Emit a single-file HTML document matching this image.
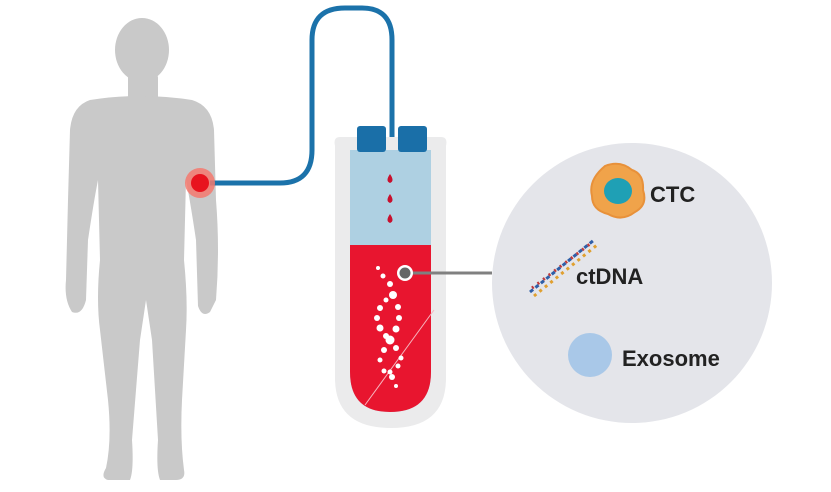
<!DOCTYPE html>
<html><head><style>body{margin:0;background:#fff}svg{display:block}</style></head><body>
<svg width="831" height="492" viewBox="0 0 831 492" xmlns="http://www.w3.org/2000/svg">
<rect width="831" height="492" fill="#fff"/>
<g fill="#c9c9c9">
<ellipse cx="142" cy="50" rx="27" ry="32"/>
<rect x="128" y="72" width="30" height="32" rx="6"/>
<path d="M90 100 Q140 92 192 100 Q212 106 214 130 L216 200 Q220 250 216 300 L210 312 Q202 318 198 306 L196 240 Q190 200 186 180 L184 260 Q188 300 186 330 L182 400 Q180 440 184 470 Q186 480 176 480 L160 480 Q156 470 158 440 L152 340 L146 300 L140 340 L132 440 Q134 470 130 480 L108 480 Q100 478 106 468 Q112 440 108 400 L100 330 Q96 300 100 260 L98 180 Q94 200 88 240 L86 300 Q82 316 72 312 Q64 300 66 280 L68 200 L70 130 Q72 106 90 100Z"/>
</g>
<path d="M210 183 L280 183 Q312 183 312 150 L312 40 Q312 8 345 8 L362 8 Q392 8 392 40 L392 142" fill="none" stroke="#1b72aa" stroke-width="5"/>
<circle cx="200" cy="183" r="15" fill="#f4796f" opacity="0.85"/>
<circle cx="200" cy="183" r="9" fill="#e8141e"/>
<path d="M340 137 L441 137 Q448 137 446 146 L446 378 Q446 428 391 428 Q335 428 335 378 L335 146 Q333 137 340 137Z" fill="#ebebec"/>
<path d="M350 150 L431 150 L431 372 Q431 412 390 412 Q350 412 350 372Z" fill="#aed0e2"/>
<path d="M350 245 L431 245 L431 372 Q431 412 390 412 Q350 412 350 372Z" fill="#e8152f"/>
<rect x="357" y="126" width="29" height="26" rx="3" fill="#1a6fa8"/>
<rect x="398" y="126" width="29" height="26" rx="3" fill="#1a6fa8"/>
<g fill="#c8102e">
<path d="M390 174 q-5 7 0 9 q5 -2 0 -9z"/>
<path d="M390 194 q-5 7 0 9 q5 -2 0 -9z"/>
<path d="M390 214 q-5 7 0 9 q5 -2 0 -9z"/>
</g>
<line x1="365" y1="405" x2="434" y2="310" stroke="#f6b6bf" stroke-width="1"/>
<g fill="#fff">
<circle cx="378" cy="268" r="2"/><circle cx="383" cy="276" r="2.5"/><circle cx="390" cy="284" r="3"/><circle cx="393" cy="295" r="4"/><circle cx="398" cy="307" r="3"/><circle cx="399" cy="318" r="3"/><circle cx="396" cy="329" r="3.5"/><circle cx="390" cy="340" r="4.5"/><circle cx="384" cy="350" r="3"/><circle cx="380" cy="360" r="2.5"/><circle cx="384" cy="371" r="2.5"/><circle cx="392" cy="377" r="3"/><circle cx="396" cy="386" r="2"/>
<circle cx="386" cy="300" r="2.5"/><circle cx="380" cy="308" r="3"/><circle cx="377" cy="318" r="3"/><circle cx="380" cy="328" r="3.5"/><circle cx="386" cy="336" r="3"/><circle cx="396" cy="348" r="3"/><circle cx="401" cy="358" r="2.5"/><circle cx="398" cy="366" r="2.5"/><circle cx="390" cy="372" r="2.5"/>
</g>
<line x1="405" y1="273" x2="492" y2="273" stroke="#808080" stroke-width="3"/>
<circle cx="405" cy="273" r="8" fill="#fff"/>
<circle cx="405" cy="273" r="5.5" fill="#666"/>
<circle cx="632" cy="283" r="140" fill="#e4e5ea"/>
<path d="M605 166 Q620 160 632 170 Q644 174 643 190 Q648 205 635 212 Q622 222 608 214 Q592 210 592 196 Q588 180 605 166Z" fill="#f0a34a" stroke="#e8913a" stroke-width="2"/>
<ellipse cx="618" cy="191" rx="14" ry="13" fill="#1fa0b5"/>
<text x="650" y="202" font-family="Liberation Sans, sans-serif" font-weight="bold" font-size="22" fill="#222">CTC</text>
<g stroke-width="3">
<line x1="530" y1="292" x2="594" y2="240" stroke="#2f5fa8" stroke-dasharray="4 3"/>
<line x1="534" y1="296" x2="597" y2="245" stroke="#e0a030" stroke-dasharray="3 4"/>
<line x1="532" y1="288" x2="590" y2="244" stroke="#c03a3a" stroke-dasharray="2 5"/>
</g>
<text x="576" y="284" font-family="Liberation Sans, sans-serif" font-weight="bold" font-size="22" fill="#222">ctDNA</text>
<circle cx="590" cy="355" r="22" fill="#a9c8e8"/>
<text x="622" y="366" font-family="Liberation Sans, sans-serif" font-weight="bold" font-size="22" fill="#222">Exosome</text>
</svg>
</body></html>
